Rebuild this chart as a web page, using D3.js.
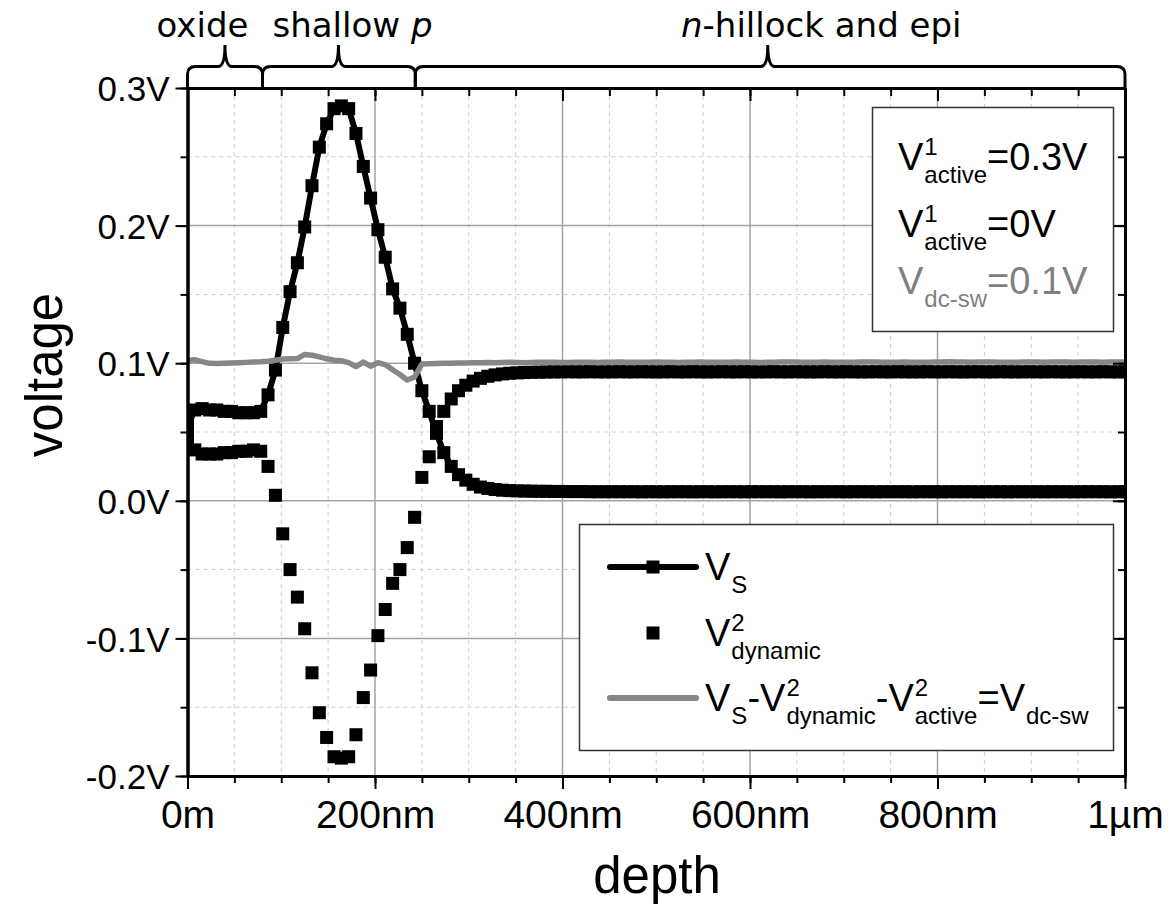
<!DOCTYPE html>
<html>
<head>
<meta charset="utf-8">
<script src="https://cdn.jsdelivr.net/npm/d3@7"></script>
<style>
  body { margin: 0; background: #fff; }
  svg text { font-family: 'Liberation Sans', Arial, sans-serif; }
</style>
</head>
<body>
<div id="chart"></div>
<script>
// depth of every sample, nm
const depthNm = [
  0, 7.8, 15.6, 23.4, 31.3, 39.1, 46.9, 54.7, 62.5, 70.3,
  78.1, 85.9, 93.8, 101.6, 109.4, 117.2, 125, 132.8, 140.6, 148.4,
  156.3, 164.1, 171.9, 179.7, 187.5, 195.3, 203.1, 210.9, 218.8, 226.6,
  234.4, 242.2, 250, 257.8, 265.6, 273.4, 281.3, 289.1, 296.9, 304.7,
  312.5, 320.3, 328.1, 335.9, 343.8, 351.6, 359.4, 367.2, 375, 382.8,
  390.6, 398.4, 406.3, 414.1, 421.9, 429.7, 437.5, 445.3, 453.1, 460.9,
  468.8, 476.6, 484.4, 492.2, 500, 507.8, 515.6, 523.4, 531.3, 539.1,
  546.9, 554.7, 562.5, 570.3, 578.1, 585.9, 593.8, 601.6, 609.4, 617.2,
  625, 632.8, 640.6, 648.4, 656.3, 664.1, 671.9, 679.7, 687.5, 695.3,
  703.1, 710.9, 718.8, 726.6, 734.4, 742.2, 750, 757.8, 765.6, 773.4,
  781.3, 789.1, 796.9, 804.7, 812.5, 820.3, 828.1, 835.9, 843.8, 851.6,
  859.4, 867.2, 875, 882.8, 890.6, 898.4, 906.3, 914.1, 921.9, 929.7,
  937.5, 945.3, 953.1, 960.9, 968.8, 976.6, 984.4, 992.2, 1000
]

// V_S (line + squares), volts
const vS = [
  0.054, 0.066, 0.067, 0.066, 0.066, 0.065, 0.065, 0.064, 0.064, 0.064,
  0.065, 0.077, 0.095, 0.126, 0.152, 0.173, 0.199, 0.229, 0.257, 0.274,
  0.285, 0.287, 0.285, 0.267, 0.243, 0.220, 0.197, 0.177, 0.154, 0.140,
  0.121, 0.100, 0.080, 0.065, 0.049, 0.035, 0.025, 0.019, 0.015, 0.012,
  0.010, 0.009, 0.0082, 0.0077, 0.0074, 0.0072, 0.0071, 0.0070, 0.0069, 0.0069,
  0.0068, 0.0068, 0.0067, 0.0067, 0.0067, 0.0066, 0.0066, 0.0066, 0.0066, 0.0066,
  0.0066, 0.0066, 0.0065, 0.0066, 0.0066, 0.0065, 0.0066, 0.0066, 0.0066, 0.0065,
  0.0066, 0.0066, 0.0065, 0.0066, 0.0066, 0.0066, 0.0065, 0.0066, 0.0066, 0.0066,
  0.0066, 0.0065, 0.0066, 0.0066, 0.0066, 0.0065, 0.0066, 0.0066, 0.0066, 0.0066,
  0.0065, 0.0066, 0.0066, 0.0066, 0.0065, 0.0066, 0.0066, 0.0066, 0.0066, 0.0065,
  0.0066, 0.0066, 0.0066, 0.0065, 0.0066, 0.0066, 0.0066, 0.0066, 0.0065, 0.0066,
  0.0066, 0.0066, 0.0065, 0.0066, 0.0066, 0.0066, 0.0066, 0.0065, 0.0066, 0.0066,
  0.0066, 0.0065, 0.0066, 0.0066, 0.0066, 0.0066, 0.0065, 0.0066, 0.0066
]

// V2 dynamic (squares only), volts
const vDynamic = [
  0.046, 0.037, 0.034, 0.034, 0.034, 0.035, 0.035, 0.036, 0.036, 0.037,
  0.036, 0.025, 0.004, -0.024, -0.050, -0.070, -0.093, -0.125, -0.154, -0.172,
  -0.186, -0.187, -0.186, -0.170, -0.143, -0.123, -0.098, -0.079, -0.060, -0.050,
  -0.034, -0.012, 0.017, 0.032, 0.054, 0.065, 0.074, 0.080, 0.084, 0.087,
  0.089, 0.0905, 0.0915, 0.0922, 0.0927, 0.0930, 0.0932, 0.0934, 0.0935, 0.0936,
  0.0937, 0.0937, 0.0938, 0.0937, 0.0937, 0.0938, 0.0937, 0.0937, 0.0937, 0.0938,
  0.0937, 0.0937, 0.0938, 0.0937, 0.0937, 0.0937, 0.0938, 0.0937, 0.0937, 0.0938,
  0.0937, 0.0937, 0.0937, 0.0938, 0.0937, 0.0937, 0.0938, 0.0937, 0.0937, 0.0937,
  0.0938, 0.0937, 0.0937, 0.0938, 0.0937, 0.0937, 0.0937, 0.0938, 0.0937, 0.0937,
  0.0938, 0.0937, 0.0937, 0.0937, 0.0938, 0.0937, 0.0937, 0.0938, 0.0937, 0.0937,
  0.0937, 0.0938, 0.0937, 0.0937, 0.0938, 0.0937, 0.0937, 0.0937, 0.0938, 0.0937,
  0.0937, 0.0938, 0.0937, 0.0937, 0.0937, 0.0938, 0.0937, 0.0937, 0.0938, 0.0937,
  0.0937, 0.0937, 0.0938, 0.0937, 0.0937, 0.0938, 0.0937, 0.0937, 0.0937
]

// V_dc-sw (grey line), volts
const vDcSw = [
  0.1020, 0.1025, 0.1012, 0.0999, 0.0998, 0.1000, 0.1002, 0.1004, 0.1006, 0.1008,
  0.1010, 0.1014, 0.1022, 0.1030, 0.1032, 0.1034, 0.1064, 0.1058, 0.1046, 0.1032,
  0.1022, 0.1018, 0.1004, 0.0975, 0.1008, 0.0978, 0.1003, 0.0990, 0.0952, 0.0918,
  0.0878, 0.0900, 0.0994, 0.0996, 0.0998, 0.0999, 0.1000, 0.1001, 0.1002, 0.1003,
  0.1004, 0.1005, 0.1004, 0.1005, 0.1006, 0.1005, 0.1004, 0.1005, 0.1006, 0.1007,
  0.1006, 0.1005, 0.1005, 0.1006, 0.1007, 0.1006, 0.1005, 0.1006, 0.1007, 0.1008,
  0.1007, 0.1006, 0.1006, 0.1007, 0.1008, 0.1007, 0.1006, 0.1005, 0.1006, 0.1007,
  0.1008, 0.1007, 0.1006, 0.1006, 0.1007, 0.1008, 0.1007, 0.1006, 0.1005, 0.1006,
  0.1007, 0.1008, 0.1009, 0.1008, 0.1007, 0.1006, 0.1007, 0.1008, 0.1007, 0.1006,
  0.1006, 0.1007, 0.1008, 0.1009, 0.1008, 0.1007, 0.1006, 0.1007, 0.1008, 0.1007,
  0.1006, 0.1007, 0.1008, 0.1009, 0.1010, 0.1009, 0.1008, 0.1007, 0.1008, 0.1009,
  0.1008, 0.1007, 0.1006, 0.1007, 0.1008, 0.1009, 0.1008, 0.1007, 0.1008, 0.1009,
  0.1008, 0.1007, 0.1008, 0.1009, 0.1008, 0.1007, 0.1008, 0.1009, 0.1008
]

const xTickValues = [0, 200, 400, 600, 800, 1000]
const xTickLabels = ['0m', '200nm', '400nm', '600nm', '800nm', '1µm']
const yTickValues = [0.3, 0.2, 0.1, 0.0, -0.1, -0.2]
const yTickLabels = ['0.3V', '0.2V', '0.1V', '0.0V', '-0.1V', '-0.2V']

// regions marked with braces above the plot (nm)
const regionNames = ['oxide', 'shallow ', '-hillock and epi']
const regionItalic = ['', 'p', 'n']
const regionStart = [0, 80, 243]
const regionEnd = [80, 243, 1000]
const regionPeak = [40, 161, 619]
const regionLabelAt = [16, 176, 676]

// annotation box and legend texts
const noteLines = [
  [{ t: 'V' }, { sup: '1', sub: 'active' }, { t: '=0.3V' }],
  [{ t: 'V' }, { sup: '1', sub: 'active' }, { t: '=0V' }],
  [{ t: 'V' }, { sub: 'dc-sw' }, { t: '=0.1V' }]
]
const noteColors = ['#000', '#000', '#808080']
const legendLines = [
  [{ t: 'V' }, { sub: 'S' }],
  [{ t: 'V' }, { sup: '2', sub: 'dynamic' }],
  [{ t: 'V' }, { sub: 'S' }, { t: '-V' }, { sup: '2', sub: 'dynamic' }, { t: '-V' }, { sup: '2', sub: 'active' }, { t: '=V' }, { sub: 'dc-sw' }]
]

;(function () {
  const WIDTH = 1170
  const HEIGHT = 924
  const MARGIN = { TOP: 88, BOTTOM: 148, LEFT: 187.5, RIGHT: 45 }
  const W = WIDTH - MARGIN.LEFT - MARGIN.RIGHT
  const H = HEIGHT - MARGIN.TOP - MARGIN.BOTTOM
  const MARK = 13
  const GREY = '#878787'

  const svg = d3.select('#chart').append('svg')
    .attr('width', WIDTH)
    .attr('height', HEIGHT)

  const x = d3.scaleLinear().domain([0, 1000]).range([0, W])
  const y = d3.scaleLinear().domain([-0.2, 0.3]).range([H, 0])

  const plot = svg.append('g')
    .attr('transform', `translate(${MARGIN.LEFT}, ${MARGIN.TOP})`)

  plot.append('clipPath').attr('id', 'plot-clip')
    .append('rect').attr('width', W).attr('height', H)

  // grid
  const xMinor = x.ticks(20).filter(d => d % 200 !== 0)
  const yMinor = y.ticks(10).filter(d => Math.abs(Math.round(d * 20)) % 2 === 1)
  const grid = plot.append('g')
  grid.selectAll('.gx-minor').data(xMinor).enter().append('line')
    .attr('x1', d => x(d)).attr('x2', d => x(d)).attr('y1', 0).attr('y2', H)
    .style('stroke', '#cfcfcf').style('stroke-width', 1).style('stroke-dasharray', '4,4')
  grid.selectAll('.gy-minor').data(yMinor).enter().append('line')
    .attr('y1', d => y(d)).attr('y2', d => y(d)).attr('x1', 0).attr('x2', W)
    .style('stroke', '#cfcfcf').style('stroke-width', 1).style('stroke-dasharray', '4,4')
  grid.selectAll('.gx-major').data(xTickValues.slice(1, -1)).enter().append('line')
    .attr('x1', d => x(d)).attr('x2', d => x(d)).attr('y1', 0).attr('y2', H)
    .style('stroke', '#a3a3a3').style('stroke-width', 1.5)
  grid.selectAll('.gy-major').data(yTickValues.slice(1, -1)).enter().append('line')
    .attr('y1', d => y(d)).attr('y2', d => y(d)).attr('x1', 0).attr('x2', W)
    .style('stroke', '#a3a3a3').style('stroke-width', 1.5)

  // series
  const series = plot.append('g').attr('clip-path', 'url(#plot-clip)')
  const vsPts = depthNm.map((d, i) => [d, vS[i]])
  const dynPts = depthNm.map((d, i) => [d, vDynamic[i]])
  const dcPts = depthNm.map((d, i) => [d, vDcSw[i]])
  const line = d3.line().x(d => x(d[0])).y(d => y(d[1]))

  series.append('path')
    .attr('d', line(vsPts))
    .style('fill', 'none').style('stroke', '#000').style('stroke-width', 6)
    .style('stroke-linejoin', 'round')
  series.selectAll('.m-vs').data(vsPts).enter().append('rect')
    .attr('x', d => x(d[0]) - MARK / 2).attr('y', d => y(d[1]) - MARK / 2)
    .attr('width', MARK).attr('height', MARK).style('fill', '#000')
  series.selectAll('.m-dyn').data(dynPts).enter().append('rect')
    .attr('x', d => x(d[0]) - MARK / 2).attr('y', d => y(d[1]) - MARK / 2)
    .attr('width', MARK).attr('height', MARK).style('fill', '#000')
  series.append('path')
    .attr('d', line(dcPts))
    .style('fill', 'none').style('stroke', GREY).style('stroke-width', 5.5)
    .style('stroke-linejoin', 'round')

  // axes
  const styleAxis = (g, width) => {
    g.select('.domain').style('stroke-width', 3).style('stroke', '#000')
    g.selectAll('.tick line').style('stroke-width', width).style('stroke', '#000')
  }
  const xMinorAll = x.ticks(20)
  const yMinorAll = y.ticks(10)

  const bottomMinor = plot.append('g').attr('transform', `translate(0, ${H})`)
    .call(d3.axisBottom(x).tickValues(xMinorAll).tickSize(7).tickSizeOuter(0).tickFormat(''))
  styleAxis(bottomMinor, 2)
  const bottom = plot.append('g').attr('transform', `translate(0, ${H})`)
    .call(d3.axisBottom(x).tickValues(xTickValues).tickSize(13).tickSizeOuter(0)
      .tickFormat((d, i) => xTickLabels[i]))
  styleAxis(bottom, 2)
  bottom.selectAll('text').attr('y', 52).attr('dy', 0)
    .style('font-family', "'Liberation Sans', Arial, sans-serif").style('font-size', '39px').style('fill', '#000')

  const topMinor = plot.append('g')
    .call(d3.axisTop(x).tickValues(xMinorAll).tickSize(-8).tickSizeOuter(0).tickFormat(''))
  styleAxis(topMinor, 2)
  const top = plot.append('g')
    .call(d3.axisTop(x).tickValues(xTickValues).tickSize(-13).tickSizeOuter(0).tickFormat(''))
  styleAxis(top, 2)

  const leftMinor = plot.append('g')
    .call(d3.axisLeft(y).tickValues(yMinorAll).tickSize(7).tickSizeOuter(0).tickFormat(''))
  styleAxis(leftMinor, 2)
  const left = plot.append('g')
    .call(d3.axisLeft(y).tickValues(yTickValues).tickSize(12).tickSizeOuter(0).tickPadding(6)
      .tickFormat((d, i) => yTickLabels[i]))
  styleAxis(left, 2)
  left.selectAll('text').attr('dy', '0.36em')
    .style('font-family', "'Liberation Sans', Arial, sans-serif").style('font-size', '35px').style('fill', '#000')

  const rightMinor = plot.append('g').attr('transform', `translate(${W}, 0)`)
    .call(d3.axisRight(y).tickValues(yMinorAll).tickSize(-7).tickSizeOuter(0).tickFormat(''))
  styleAxis(rightMinor, 2)
  const right = plot.append('g').attr('transform', `translate(${W}, 0)`)
    .call(d3.axisRight(y).tickValues(yTickValues).tickSize(-12).tickSizeOuter(0).tickFormat(''))
  styleAxis(right, 2)

  // axis titles
  svg.append('text')
    .attr('x', 657).attr('y', 893)
    .attr('text-anchor', 'middle').attr('font-size', 51)
    .text('depth')
  svg.append('text')
    .attr('transform', 'translate(62, 375) rotate(-90)')
    .attr('text-anchor', 'middle').attr('font-size', 51)
    .text('voltage')

  // braces above the plot
  const B0 = 0, B1 = -21.5, B2 = -43
  const bracePath = (x0, xm, x1) => `M${x0},${B0} L${x0},${B1 + 8}
    Q${x0},${B1} ${x0 + 8},${B1} L${xm - 7},${B1} Q${xm},${B1} ${xm},${B2}
    Q${xm},${B1} ${xm + 7},${B1} L${x1 - 8},${B1} Q${x1},${B1} ${x1},${B1 + 8} L${x1},${B0}`
  const braces = plot.append('g')
  regionNames.forEach((name, i) => {
    braces.append('path')
      .attr('d', bracePath(x(regionStart[i]), x(regionPeak[i]), x(regionEnd[i])))
      .style('fill', 'none').style('stroke', '#000').style('stroke-width', 3)
    const t = braces.append('text')
      .attr('x', x(regionLabelAt[i])).attr('y', -51)
      .attr('text-anchor', 'middle')
      .style('font-family', "'DejaVu Sans', Verdana, sans-serif").style('font-size', '34px')
    if (i === 2) {
      t.append('tspan').style('font-style', 'italic').text(regionItalic[i])
      t.append('tspan').text(name)
    } else {
      t.append('tspan').text(name)
      if (regionItalic[i]) t.append('tspan').style('font-style', 'italic').text(regionItalic[i])
    }
  })

  // text with sub/superscripts, Origin style
  const richText = (g, x0, y0, parts, color) => {
    let cx = x0
    parts.forEach(p => {
      if (p.t) {
        const t = g.append('text').attr('x', cx).attr('y', y0)
          .attr('font-size', 38).attr('fill', color).text(p.t)
        cx += t.node().getComputedTextLength()
      } else {
        let w = 0
        if (p.sup) {
          const t = g.append('text').attr('x', cx + 1).attr('y', y0 - 15)
            .attr('font-size', 24).attr('fill', color).text(p.sup)
          w = Math.max(w, t.node().getComputedTextLength() + 1)
        }
        if (p.sub) {
          const t = g.append('text').attr('x', cx + 1).attr('y', y0 + 13)
            .attr('font-size', 24).attr('fill', color).text(p.sub)
          w = Math.max(w, t.node().getComputedTextLength() + 1)
        }
        cx += w
      }
    })
  }

  // annotation box, top right
  const note = svg.append('g')
  note.append('rect')
    .attr('x', 872.5).attr('y', 107.5).attr('width', 241).attr('height', 224)
    .style('fill', '#fff').style('stroke', '#333').style('stroke-width', 1.5)
  const noteBase = [170, 237, 294]
  noteLines.forEach((parts, i) => richText(note, 898, noteBase[i], parts, noteColors[i]))

  // legend
  const legend = svg.append('g')
  legend.append('rect')
    .attr('x', 579.5).attr('y', 524.5).attr('width', 534).attr('height', 226)
    .style('fill', '#fff').style('stroke', '#333').style('stroke-width', 1.5)
  const legBase = [580, 646, 711]
  const sampleY = legBase.map(b => b - 13)
  legend.append('line')
    .attr('x1', 610).attr('x2', 696).attr('y1', sampleY[0]).attr('y2', sampleY[0])
    .style('stroke', '#000').style('stroke-width', 6).style('stroke-linecap', 'round')
  legend.append('rect')
    .attr('x', 653 - MARK / 2).attr('y', sampleY[0] - MARK / 2).attr('width', MARK).attr('height', MARK)
    .style('fill', '#000')
  legend.append('rect')
    .attr('x', 653 - MARK / 2).attr('y', sampleY[1] - MARK / 2).attr('width', MARK).attr('height', MARK)
    .style('fill', '#000')
  legend.append('line')
    .attr('x1', 610).attr('x2', 696).attr('y1', sampleY[2]).attr('y2', sampleY[2])
    .style('stroke', GREY).style('stroke-width', 6).style('stroke-linecap', 'round')
  legendLines.forEach((parts, i) => richText(legend, 705, legBase[i], parts, '#000'))
})()
</script>
</body>
</html>
